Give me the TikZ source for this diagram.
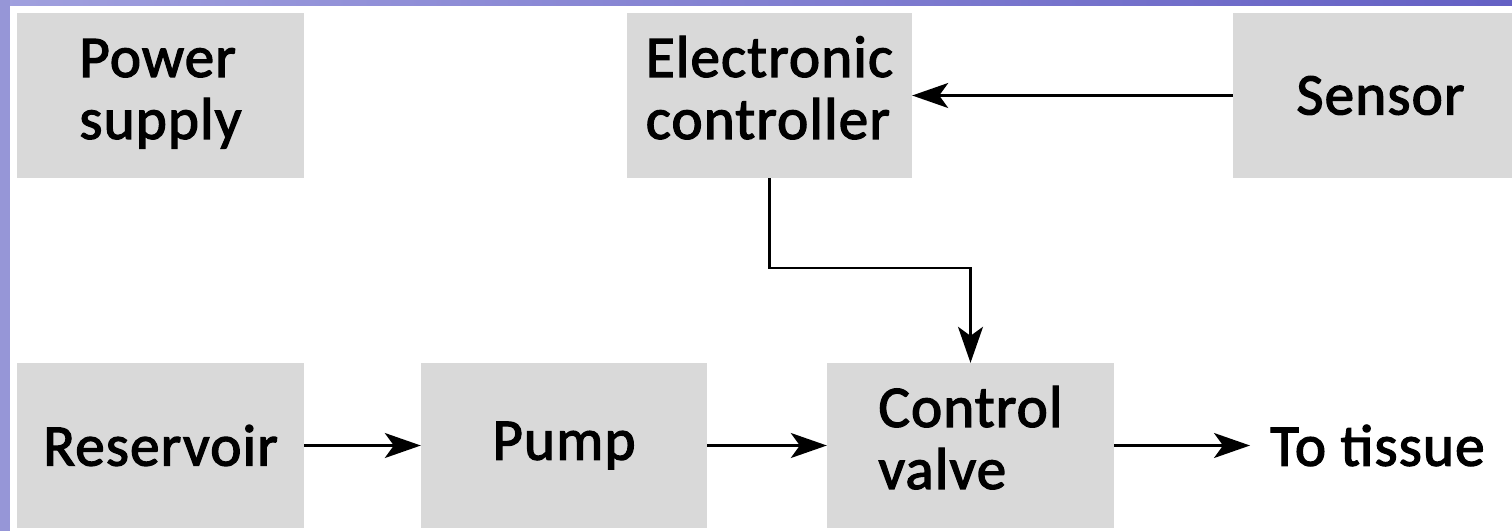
\documentclass[tikz,border=0pt]{standalone}
\usepackage{fontspec}
\setmainfont{Carlito}
\newfontfamily\lblfont[FakeBold=2.2, LetterSpace=2]{Carlito}
\usetikzlibrary{arrows.meta}
\definecolor{boxgray}{RGB}{217,217,217}
\definecolor{frameA}{RGB}{160,160,222}
\definecolor{frameB}{RGB}{100,96,196}
\definecolor{frameL}{RGB}{150,150,215}
\newcommand{\twoline}[2]{\raisebox{10pt}{\begin{tabular}{@{}l@{}}#1\\#2\end{tabular}}}
\tikzset{
  lbl/.style={font=\lblfont\fontsize{59}{62}\selectfont},
  blockbox/.style={lbl, fill=boxgray, draw=none, minimum height=165pt, inner sep=0pt},
  arr/.style={draw=black, line width=2.2pt, -{Stealth[length=36pt, width=25pt, inset=9pt]}},
}
\begin{document}
\begin{tikzpicture}[x=1pt, y=-1pt]
\useasboundingbox (0,0) rectangle (1512,531);
\shade[left color=frameA, right color=frameB] (0,0) rectangle (1512,6);
\fill[frameL] (0,0) rectangle (10,531);
\fill[white] (10,6) rectangle (1512,531);
\begin{scope}
\clip (0,0) rectangle (1512,531);
\node[blockbox, minimum width=287pt] (power) at (160.5,95.5) {\twoline{Power}{supply}};
\node[blockbox, minimum width=285pt] (ctrl) at (769.5,95.5) {\twoline{Electronic}{controller}};
\node[blockbox, minimum width=287pt] (sensor) at (1376.5,95.5) {\hspace*{8pt}Sensor};
\node[blockbox, minimum width=287pt] (res) at (160.5,445.5) {Reservoir};
\node[blockbox, minimum width=286pt] (pump) at (564,445.5) {Pump};
\node[blockbox, minimum width=287pt] (valve) at (970.5,445.5) {\twoline{Control}{valve}};
\end{scope}
\node[lbl, anchor=west, inner xsep=20pt, inner ysep=0pt] (tissue) at (1250,445.5) {To tissue};
\draw[arr] (sensor.west) -- (ctrl.east);
\draw[arr] (res.east) -- (pump.west);
\draw[arr] (pump.east) -- (valve.west);
\draw[arr] (valve.east) -- (tissue.west);
\draw[arr] (ctrl.south) -- ++(0,90) -| (valve.north);
\end{tikzpicture}
\end{document}
